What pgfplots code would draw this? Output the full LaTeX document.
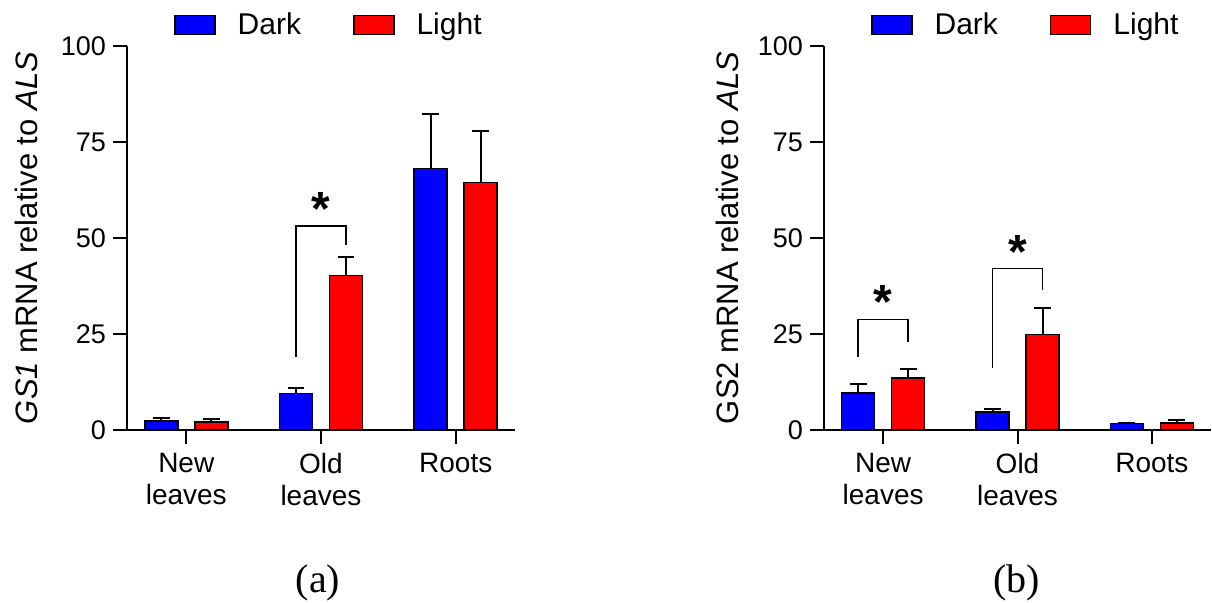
\documentclass[border=0pt]{standalone}
\usepackage{fontspec}
\setmainfont{Liberation Sans}
\newfontfamily\capfont{Liberation Serif}
\usepackage{pgfplots}
\pgfplotsset{compat=1.18}
\definecolor{barblue}{RGB}{0,0,255}
\definecolor{barred}{RGB}{255,0,0}
\pgfplotsset{
  gsaxis/.style={
    scale only axis, width=194pt, height=192pt,
    anchor=south west,
    ybar=8.5pt, bar width=16.5pt,
    axis lines=left, axis line style={-, line width=1pt},
    xmin=-0.44, xmax=2.44, ymin=0, ymax=100,
    xtick={0,1,2}, xticklabels={{New\\leaves},{Old\\leaves},Roots},
    ytick={0,25,50,75,100},
    yticklabel={\fontsize{13.5}{15}\selectfont\pgfmathprintnumber[assume math mode=true]{\tick}},
    tick align=outside, major tick length=7pt,
    tick style={line width=1pt, black},
    xticklabel style={font=\fontsize{14}{16}\selectfont, align=center, yshift=-1pt},
    ylabel style={font=\fontsize{15.5}{18}\selectfont, anchor=center, rotate=0},
    clip=false,
    legend columns=2,
    legend image code/.code={\draw[#1, line width=0.75pt] (0pt,-4.8pt) rectangle (20pt,4.8pt);},
    legend style={draw=none, fill=none, anchor=center, font=\fontsize{15}{18}\selectfont,
      /tikz/every odd column/.append style={column sep=9pt},
      /tikz/every even column/.append style={column sep=24pt}},
  },
  errs/.style={error bars/.cd, y dir=plus, y explicit,
    error bar style={line width=1pt, black},
    error mark options={rotate=90, line width=1pt, mark size=4.2pt, black}},
}
\begin{document}
\begin{tikzpicture}
\useasboundingbox (0,0) rectangle (606pt,-301pt);
% ---------- (a) ----------
\begin{axis}[gsaxis, at={(63.5pt,-215pt)},
  ylabel={\textit{GS1} mRNA relative to \textit{ALS}},
  ylabel style={at={(axis description cs:-0.2585,0.5)}},
  legend style={at={(axis description cs:0.523,1.055)}}]
\addplot[fill=barblue, draw=black, line width=0.75pt, errs] coordinates {(0,2.4) +- (0,0.6) (1,9.5) +- (0,1.5) (2,68.1) +- (0,14.1)};
\addlegendentry{Dark}
\addplot[fill=barred, draw=black, line width=0.75pt, errs] coordinates {(0,2.1) +- (0,0.7) (1,40.3) +- (0,4.8) (2,64.5) +- (0,13.4)};
\addlegendentry{Light}
\draw[line width=0.75pt] ([xshift=-12.5pt]axis cs:1,19) -- ([xshift=-12.5pt]axis cs:1,53.1) -- ([xshift=12.5pt]axis cs:1,53.1) -- ([xshift=12.5pt]axis cs:1,48.2);
\node[anchor=base, font=\bfseries\fontsize{24}{24}\selectfont, inner sep=0pt] at (axis cs:1,53.3) {*};
\end{axis}
% ---------- (b) ----------
\begin{axis}[gsaxis, at={(412pt,-215pt)}, width=193.5pt,
  ylabel={GS2 mRNA relative to \textit{ALS}},
  ylabel style={at={(axis description cs:-0.2506,0.5)}},
  legend style={at={(axis description cs:0.524,1.055)}}]
\addplot[fill=barblue, draw=black, line width=0.75pt, errs] coordinates {(0,9.7) +- (0,2.3) (1,4.7) +- (0,0.8) (2,1.7) +- (0,0)};
\addlegendentry{Dark}
\addplot[fill=barred, draw=black, line width=0.75pt, errs] coordinates {(0,13.6) +- (0,2.4) (1,24.9) +- (0,6.9) (2,1.8) +- (0,0.8)};
\addlegendentry{Light}
\draw[line width=0.75pt] ([xshift=-12.5pt]axis cs:0,19.1) -- ([xshift=-12.5pt]axis cs:0,28.8) -- ([xshift=12.5pt]axis cs:0,28.8) -- ([xshift=12.5pt]axis cs:0,23.0);
\node[anchor=base, font=\bfseries\fontsize{24}{24}\selectfont, inner sep=0pt] at (axis cs:0,29.1) {*};
\draw[line width=0.75pt] ([xshift=-12.5pt]axis cs:1,16.1) -- ([xshift=-12.5pt]axis cs:1,42.0) -- ([xshift=12.5pt]axis cs:1,42.0) -- ([xshift=12.5pt]axis cs:1,36.5);
\node[anchor=base, font=\bfseries\fontsize{24}{24}\selectfont, inner sep=0pt] at (axis cs:1,42.1) {*};
\end{axis}
\node[anchor=base, font=\capfont\fontsize{20}{24}\selectfont] at (159pt,-296pt) {(a)};
\node[anchor=base, font=\capfont\fontsize{20}{24}\selectfont] at (508.25pt,-296pt) {(b)};
\end{tikzpicture}
\end{document}
